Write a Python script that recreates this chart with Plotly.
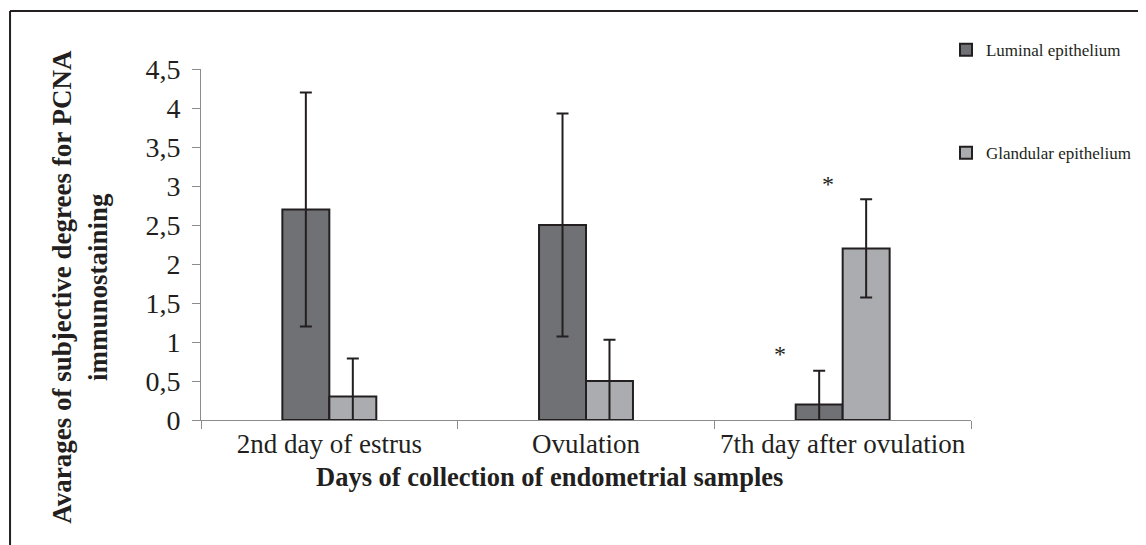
import plotly.graph_objects as go

categories = ["2nd day of estrus", "Ovulation", "7th day after ovulation"]
luminal = [2.7, 2.5, 0.2]
luminal_err = [1.5, 1.43, 0.43]
glandular = [0.3, 0.5, 2.2]
glandular_err = [0.49, 0.53, 0.63]
star_category = ["7th day after ovulation", "7th day after ovulation"]
star_y = [0.84, 3.03]
star_shift = [-63, -15]

FONT = "Liberation Serif"
AXIS_GRAY = "#8c8c8c"
INK = "#231f20"

fig = go.Figure()
fig.add_trace(go.Bar(
    name="Luminal epithelium", x=categories, y=luminal, legendgroup="a",
    marker=dict(color="#707174", line=dict(color=INK, width=2)),
    error_y=dict(type="data", array=luminal_err, visible=True, color=INK, thickness=2, width=6),
))
fig.add_trace(go.Bar(
    name="Glandular epithelium", x=categories, y=glandular, legendgroup="b",
    marker=dict(color="#abacaf", line=dict(color=INK, width=2)),
    error_y=dict(type="data", array=glandular_err, visible=True, color=INK, thickness=2, width=6),
))

for c, yv, sh in zip(star_category, star_y, star_shift):
    fig.add_annotation(x=c, y=yv, text="*", showarrow=False, xshift=sh,
                       xanchor="center", yanchor="middle",
                       font=dict(family=FONT, size=24, color=INK))

fig.add_annotation(
    xref="paper", yref="paper", x=-0.157, y=0.38, xanchor="center", yanchor="middle",
    text="<b>Avarages of subjective degrees for PCNA<br>immunostaining</b>",
    textangle=-90, showarrow=False, font=dict(family=FONT, size=27, color=INK),
)
fig.add_annotation(
    xref="paper", yref="paper", x=0.453, y=-0.162, xanchor="center", yanchor="middle",
    text="<b>Days of collection of endometrial samples</b>",
    showarrow=False, font=dict(family=FONT, size=26.5, color=INK),
)

# partial outer frame (top and left edges)
fig.add_shape(type="line", xref="paper", yref="paper", x0=-0.248, x1=1.3, y0=1.165, y1=1.165,
              line=dict(color=INK, width=2))
fig.add_shape(type="line", xref="paper", yref="paper", x0=-0.248, x1=-0.248, y0=1.165, y1=-0.45,
              line=dict(color=INK, width=2))

fig.update_layout(
    width=1138, height=537,
    margin=dict(l=193, r=175, t=61, b=125, autoexpand=False),
    paper_bgcolor="white", plot_bgcolor="white",
    barmode="group", bargap=0.634, bargroupgap=0,
    font=dict(family=FONT, color=INK),
    showlegend=True,
    legend=dict(x=0.9675, y=1.105, xanchor="left", yanchor="top", tracegroupgap=78,
                font=dict(family=FONT, size=17, color=INK), itemwidth=30,
                bgcolor="rgba(0,0,0,0)"),
    xaxis=dict(showline=True, linecolor=AXIS_GRAY, linewidth=1, ticks="outside", tickson="boundaries",
               ticklen=8, tickcolor=AXIS_GRAY, tickfont=dict(family=FONT, size=27, color=INK),
               showgrid=False),
    yaxis=dict(range=[0, 4.5], dtick=0.5, showline=True, linecolor=AXIS_GRAY, linewidth=1,
               ticks="outside", ticklen=8, tickcolor=AXIS_GRAY, ticklabelstandoff=6,
               tickformat=",.1~f", tickfont=dict(family=FONT, size=28, color=INK), showgrid=False,
               zeroline=False),
    separators=", ",
)

fig.write_html("out.html")
